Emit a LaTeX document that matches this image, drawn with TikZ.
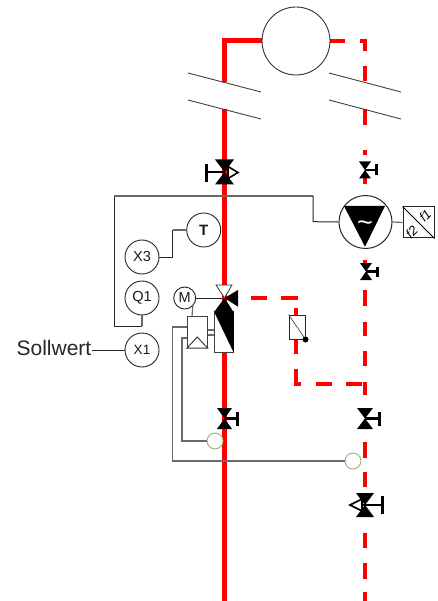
\documentclass[tikz,border=0pt]{standalone}
\usepackage{fontspec}
\setmainfont{Liberation Sans}
\definecolor{pipered}{RGB}{255,0,0}
\definecolor{wiregray}{RGB}{105,105,105}
\definecolor{sensorgreen}{RGB}{155,178,110}
\newcommand{\hourglassvalve}[5]{% x y halfw halfh handle-end-x
  \fill[black] (#1-#3,#2-#4) -- (#1+#3,#2-#4) -- (#1-#3,#2+#4) -- (#1+#3,#2+#4) -- cycle;
  \draw[line width=2.5pt,black] (#1,#2) -- (#5,#2);
}
\tikzset{
  instr/.style={circle,draw=black!85,fill=white,line width=0.9pt,inner sep=0pt,minimum size=34pt,font=\fontsize{14.5}{14.5}\selectfont,text=black!90},
  sensor/.style={circle,draw=sensorgreen,fill=white,line width=0.9pt,inner sep=0pt,minimum size=16pt},
  wire/.style={line width=1pt,draw=black!85},
  gwire/.style={line width=1.2pt,draw=wiregray},
  slant/.style={line width=0.9pt,draw=black!75},
  main/.style={line width=5pt,draw=pipered},
  ret/.style={line width=4.2pt,draw=pipered},
  handlebar/.style={line width=3pt,draw=black},
}
\begin{document}
\begin{tikzpicture}[x=1pt,y=-1pt]
\useasboundingbox (0,0) rectangle (437,601);
% pipes: supply
\coordinate (top) at (224.5,41);
\coordinate (tank) at (296,41);
\draw[main] (tank) -- (top) -- (224.5,82);
\draw[main] (224.5,109) -- (224.5,601);
% pipes: return (dashed)
\foreach \a/\b in {330/345,360/367}{\draw[ret] (\a,41) -- (\b,41);}
\foreach \a/\b in {39/51,66/81,109/125,150/155,178/184,260/264,290/306,322/336,351/366,382/395,442/458,472/487,533/548,563/579,592/601}{\draw[ret] (365,\a) -- (365,\b);}
\foreach \a/\b in {251/267,281/298}{\draw[ret] (\a,297.7) -- (\b,297.7);}
\foreach \a/\b in {308/316,340/354,369/386}{\draw[ret] (296,\a) -- (296,\b);}
\foreach \a/\b in {296/301,316/332,346/362}{\draw[ret] (\a,384) -- (\b,384);}
% tank
\node[circle,draw=black!80,fill=white,line width=0.9pt,minimum size=68pt,inner sep=0pt] (tankc) at (tank) {};
% break lines
\draw[slant] (188,73) -- (261,92);
\draw[slant] (188,100) -- (261,119);
\draw[slant] (329,73) -- (401,92);
\draw[slant] (329,100) -- (401,119);
% instruments
\node[instr,font=\fontsize{15}{15}\selectfont\bfseries] (T) at (203.7,230) {T};
\node[instr] (X3) at (142,257) {X3};
\node[instr] (Q1) at (142,298) {Q1};
\node[instr,font=\fontsize{13.5}{13.5}\selectfont] (X1) at (142,350) {X1};
\node[instr,minimum size=22pt,font=\fontsize{14.5}{14.5}\selectfont] (M) at (184.7,298) {M};
\node[font=\fontsize{21}{21}\selectfont,text=black!85,anchor=east,inner sep=0pt] (soll) at (91.5,348) {Sollwert};
\node[circle,draw=black!85,fill=white,line width=1pt,minimum size=53pt,inner sep=0pt] (pump) at (365.5,222) {};
\draw[wire] (soll.east |- X1) -- (X1.west);
\draw[gwire] (T.west) -- (172.7,230);
\draw[wire] (172.7,230) -- (172.7,257) -- (X3.east);
\draw[gwire] (Q1.south) -- (142,326);
\draw[wire] (142,326) -- (114,326) -- (114,196);
\draw[gwire] (114,196) -- (313,196);
\draw[wire] (313,196) -- (313,221.7) -- (pump.west);
% pump
\fill[black] (344,206) -- (385,206) -- (365,246.7) -- cycle;
\node[text=white,font=\fontsize{27}{27}\selectfont,inner sep=0pt] (tilde) at (365,226) {\char"007E};
\node[draw=black!85,fill=white,line width=1pt,minimum width=31pt,minimum height=31pt,inner sep=0pt] (fc) at (418.5,222.5) {};
\draw[gwire] (pump.east) -- (fc.west);
\draw[line width=0.9pt] (fc.north west) -- (fc.south east);
\node[rotate=45,font=\fontsize{13}{13}\selectfont\itshape,inner sep=0pt] (f1) at (425,215.5) {f1};
\node[rotate=45,font=\fontsize{13}{13}\selectfont\itshape,inner sep=0pt] (f2) at (411.5,232) {f2};
% valves
\hourglassvalve{224.5}{172}{9.5}{12.5}{207}
\draw[handlebar] (206.5,164) -- (206.5,182);
\draw[fill=white,line width=1.6pt,draw=black] (228,166.5) -- (238,172.5) -- (228,178.5) -- cycle;
\hourglassvalve{365}{170}{6}{8.5}{376}
\draw[handlebar] (376,164) -- (376,175.5);
\hourglassvalve{366}{271.5}{6}{8.5}{377}
\draw[handlebar] (377,266.5) -- (377,277);
\hourglassvalve{224.5}{418.5}{7.5}{10.5}{238}
\draw[handlebar] (237.7,412) -- (237.7,426);
\hourglassvalve{365}{418.5}{8}{10.5}{379}
\draw[handlebar] (379,412) -- (379,426);
\hourglassvalve{365}{505}{9}{12}{382}
\draw[handlebar] (382.5,496) -- (382.5,514);
\draw[fill=white,line width=1.6pt,draw=black] (362,499) -- (350,505) -- (362,511) -- cycle;
\draw[line width=2.5pt] (362,505) -- (382,505);
% three-way valve and actuator
\node[draw=black!75,fill=white,line width=0.9pt,minimum width=19pt,minimum height=40.6pt,inner sep=0pt] (body) at (223.8,332) {};
\fill[black] (body.north west) -- (body.north east) -- (body.south east) -- cycle;
\node[draw=black!75,fill=white,line width=0.9pt,minimum width=20pt,minimum height=31pt,inner sep=0pt] (act) at (197.3,332.2) {};
\draw[line width=0.9pt,draw=black!80,fill=white] (act.south west) -- (197.3,337) -- (act.south east) -- cycle;
\draw[gwire] (act.east |- 0,330) -- (body.west |- 0,330);
\draw[gwire] (act.east |- 0,335) -- (body.west |- 0,335);
\draw[wire,line width=0.8pt] (M.east) -- (224.5,298);
\draw[gwire] (M.south east) -- (192,316.7);
\coordinate (tw) at (224.5,298);
\draw[fill=white,line width=0.8pt,draw=black!80] (216,285) -- (232,285) -- (tw) -- cycle;
\fill[black] (tw) -- (233.3,311.7) -- (214.3,311.7) -- cycle;
\fill[black] (tw) -- (238,290) -- (238,306.7) -- cycle;
\fill[pipered] (tw) circle (1.2pt);
% sensors and capillaries
\node[sensor] (s1) at (215,441) {};
\node[sensor] (s2) at (353,461) {};
\draw[gwire] (s1.west) -- (182,441) -- (182,338) -- (187.3,338);
\draw[gwire] (s2.west) -- (172.5,461) -- (172.5,327) -- (187.3,327);
% thermostatic valve on return branch
\node[draw=black!85,fill=white,line width=1pt,minimum width=16pt,minimum height=24pt,inner sep=0pt] (rv) at (297,327) {};
\draw[line width=0.7pt,draw=black!70] (rv.north west) -- (rv.south east);
\fill[black] (rv.south east) circle (3pt);
\end{tikzpicture}
\end{document}
